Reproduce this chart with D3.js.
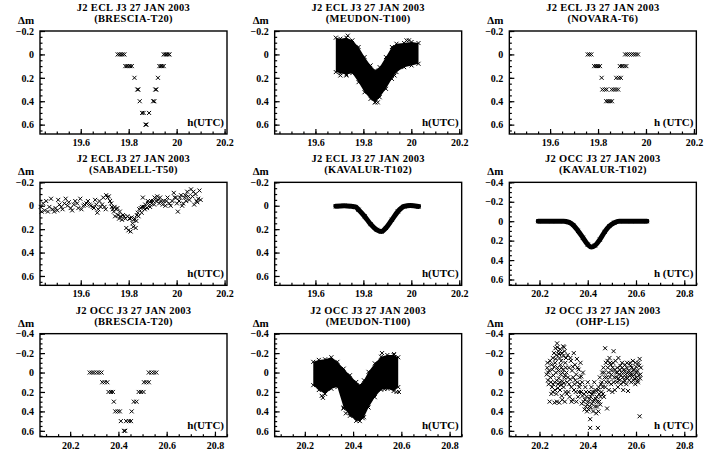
<!DOCTYPE html>
<html>
<head>
<meta charset="utf-8">
<script src="https://cdn.jsdelivr.net/npm/d3@7.9.0/dist/d3.min.js"></script>
<style>
  body { margin: 0; background: #fff; }
  svg text { font-family: "Liberation Serif", "DejaVu Serif", serif; font-weight: bold; fill: #000; }
</style>
</head>
<body>
<svg id="chart" width="704" height="454"></svg>
<script>
// tick labels
const eclTicks = [19.6, 19.8, 20, 20.2];
const occTicks = [20.2, 20.4, 20.6, 20.8];
const yTicksShort = [-0.2, 0, 0.2, 0.4, 0.6];
const yTicksLong = [-0.4, -0.2, 0, 0.2, 0.4, 0.6];

// scattered photometry, [h(UTC), delta m]
const bresciaEcl = [
  [19.754,0],[19.761,0],[19.768,0],[19.775,0],[19.782,0],
  [19.786,0.1],[19.792,0.1],[19.799,0.1],[19.806,0.1],[19.813,0.1],
  [19.824,0.2],[19.836,0.3],[19.840,0.3],[19.846,0.4],
  [19.856,0.5],[19.862,0.5],[19.885,0.5],[19.870,0.6],[19.874,0.6],
  [19.902,0.4],[19.907,0.4],[19.911,0.3],[19.915,0.3],[19.922,0.2],
  [19.928,0.1],[19.934,0.1],[19.940,0.1],[19.946,0.1],
  [19.946,0],[19.952,0],[19.958,0],[19.964,0],[19.970,0]
];
const novaraEcl = [
  [19.757,0],[19.764,0],[19.772,0],
  [19.913,0],[19.922,0],[19.931,0],[19.940,0],[19.949,0],[19.958,0],[19.967,0],
  [19.784,0.1],[19.792,0.1],[19.800,0.1],[19.808,0.1],
  [19.891,0.1],[19.900,0.1],[19.910,0.1],[19.918,0.1],
  [19.815,0.2],[19.876,0.2],[19.886,0.2],[19.895,0.2],
  [19.818,0.3],[19.828,0.3],[19.836,0.3],[19.857,0.3],[19.866,0.3],[19.875,0.3],[19.884,0.3],
  [19.834,0.4],[19.842,0.4],[19.850,0.4],[19.858,0.4]
];
const sabadellEcl = [
  [19.433,0.01],[19.437,0.05],[19.443,-0.02],[19.450,0.04],[19.456,-0.04],[19.463,0.05],
  [19.469,0.01],[19.476,-0.06],[19.482,0.03],[19.489,0.05],[19.495,0.02],[19.502,0.04],
  [19.506,-0.05],[19.511,-0.01],[19.519,0.01],[19.524,0.03],[19.532,-0.02],[19.537,-0.06],
  [19.545,0.0],[19.550,-0.03],[19.558,0.02],[19.564,0.04],[19.571,-0.01],[19.577,-0.04],
  [19.585,-0.02],[19.590,0.02],[19.598,-0.06],[19.603,0.03],[19.611,0.0],[19.616,-0.01],
  [19.624,-0.02],[19.630,-0.04],[19.637,-0.01],[19.642,0.0],[19.650,0.01],[19.655,0.02],
  [19.660,-0.05],[19.665,-0.01],[19.669,0.06],[19.673,0.03],[19.678,-0.04],[19.683,0.01],
  [19.689,-0.01],[19.694,-0.07],[19.699,0.01],[19.704,0.03],[19.706,-0.09],[19.712,-0.07],
  [19.717,-0.08],[19.722,-0.04],[19.727,-0.02],[19.730,0.01],[19.734,0.03],[19.738,0.05],
  [19.741,0.01],[19.743,0.09],[19.747,0.03],[19.753,0.02],[19.756,0.08],[19.760,0.11],
  [19.763,0.05],[19.766,0.09],[19.772,0.12],[19.776,0.08],[19.781,0.09],[19.786,0.11],
  [19.790,0.19],[19.795,0.09],[19.799,0.21],[19.803,0.11],[19.806,0.11],[19.808,0.22],
  [19.812,0.10],[19.816,0.15],[19.819,0.18],[19.821,0.12],[19.825,0.11],[19.829,0.19],
  [19.832,0.13],[19.834,0.08],[19.838,0.06],[19.841,0.09],[19.844,0.03],[19.850,0.02],
  [19.854,0.06],[19.856,0.01],[19.859,-0.07],[19.863,0.01],[19.867,0.03],[19.869,-0.01],
  [19.876,0.02],[19.880,-0.04],[19.882,-0.02],[19.889,0.01],[19.893,-0.04],[19.895,-0.02],
  [19.902,-0.04],[19.906,-0.01],[19.908,-0.07],[19.915,-0.04],[19.919,-0.08],[19.923,-0.05],
  [19.927,-0.02],[19.931,-0.07],[19.936,-0.04],[19.942,-0.01],[19.946,-0.04],[19.953,0.0],
  [19.957,-0.04],[19.962,-0.07],[19.969,-0.02],[19.975,0.0],[19.982,-0.04],[19.988,-0.11],
  [19.992,-0.07],[19.997,-0.07],[20.001,-0.02],[20.005,0.05],[20.010,-0.04],[20.014,-0.07],
  [20.018,-0.09],[20.023,0.0],[20.027,-0.02],[20.034,-0.07],[20.036,-0.09],[20.040,-0.04],
  [20.044,-0.12],[20.049,-0.08],[20.053,-0.05],[20.060,-0.14],[20.066,-0.08],[20.070,-0.12],
  [20.073,-0.01],[20.079,-0.10],[20.083,-0.04],[20.086,-0.03],[20.090,-0.06],[20.095,-0.13],
  [20.100,-0.05]
];
const bresciaOcc = [
  [20.281,0],[20.290,0],[20.299,0],[20.310,0],[20.320,0],[20.330,0],
  [20.526,0],[20.537,0],[20.547,0],[20.557,0],
  [20.333,0.1],[20.343,0.1],[20.354,0.1],[20.506,0.1],[20.516,0.1],[20.526,0.1],
  [20.359,0.2],[20.369,0.2],[20.377,0.2],[20.484,0.2],[20.494,0.2],[20.504,0.2],
  [20.381,0.3],[20.464,0.3],[20.475,0.3],
  [20.387,0.4],[20.397,0.4],[20.406,0.4],[20.455,0.4],
  [20.410,0.5],[20.432,0.5],[20.443,0.5],[20.452,0.5],
  [20.423,0.6],[20.428,0.6]
];
const ohpOcc = [
  [20.230,0.02],[20.232,-0.05],[20.235,0.08],[20.238,0.12],[20.240,-0.02],[20.242,0.30],
  [20.245,0.05],[20.247,0.10],[20.250,-0.08],[20.252,0.15],[20.255,0.20],[20.255,-0.15],
  [20.258,0.03],[20.260,-0.20],[20.262,0.31],[20.263,0.10],[20.265,-0.10],[20.266,-0.25],
  [20.268,0.00],[20.270,-0.18],[20.270,0.22],[20.272,0.30],[20.273,-0.30],[20.275,-0.05],
  [20.277,0.12],[20.278,-0.22],[20.280,0.06],[20.282,0.31],[20.283,-0.15],[20.285,0.18],
  [20.287,-0.08],[20.288,0.02],[20.290,-0.12],[20.292,0.24],[20.293,-0.20],[20.295,0.09],
  [20.297,-0.03],[20.298,-0.27],[20.300,0.15],[20.302,-0.26],[20.303,0.05],[20.305,0.30],
  [20.307,-0.10],[20.308,0.20],[20.310,-0.15],[20.312,0.00],[20.315,0.10],[20.317,-0.18],
  [20.320,0.20],[20.322,-0.05],[20.325,0.25],[20.327,0.07],[20.330,-0.12],[20.332,0.15],
  [20.335,-0.02],[20.337,0.28],[20.340,0.05],[20.342,-0.20],[20.345,0.12],[20.347,-0.08],
  [20.350,0.20],[20.352,0.02],[20.355,-0.14],[20.357,0.10],[20.360,0.25],[20.362,-0.03],
  [20.365,0.15],[20.367,0.05],[20.370,-0.10],[20.372,0.20],[20.375,0.32],[20.377,0.10],
  [20.380,0.00],[20.382,0.30],[20.385,0.22],[20.387,0.38],[20.390,0.15],[20.392,0.35],
  [20.395,0.25],[20.397,0.40],[20.400,0.10],[20.402,0.30],[20.405,0.20],[20.407,0.35],
  [20.410,0.57],[20.410,0.48],[20.412,0.25],[20.415,0.15],[20.417,0.32],[20.420,0.20],
  [20.422,0.40],[20.425,0.28],[20.427,0.10],[20.430,0.35],[20.432,0.18],[20.435,0.42],
  [20.437,0.25],[20.440,0.30],[20.442,0.57],[20.444,0.40],[20.445,0.15],[20.447,0.22],
  [20.450,0.05],[20.452,0.33],[20.455,0.12],[20.457,0.20],[20.460,0.00],[20.462,0.15],
  [20.465,-0.05],[20.467,0.25],[20.470,0.05],[20.472,-0.25],[20.475,-0.10],[20.477,0.10],
  [20.480,0.37],[20.482,-0.12],[20.485,0.00],[20.487,0.18],[20.490,-0.15],[20.492,0.05],
  [20.495,-0.08],[20.497,0.12],[20.500,-0.02],[20.502,0.20],[20.505,-0.10],[20.507,-0.22],
  [20.510,0.05],[20.512,0.18],[20.515,-0.12],[20.517,0.00],[20.520,0.10],[20.522,-0.05],
  [20.525,0.15],[20.527,-0.15],[20.530,0.02],[20.532,0.08],[20.535,-0.07],[20.537,0.12],
  [20.540,0.00],[20.542,-0.10],[20.545,0.05],[20.547,0.18],[20.550,-0.03],[20.552,0.08],
  [20.555,-0.08],[20.557,0.02],[20.560,0.12],[20.562,-0.05],[20.565,0.06],[20.567,0.19],
  [20.570,-0.02],[20.572,0.08],[20.575,-0.10],[20.577,0.00],[20.580,0.10],[20.582,-0.05],
  [20.585,0.04],[20.587,-0.12],[20.590,0.08],[20.592,-0.03],[20.595,0.02],[20.597,0.12],
  [20.600,-0.06],[20.602,0.05],[20.605,-0.02],[20.607,0.08],[20.610,-0.10],[20.612,0.03],
  [20.615,0.45],[20.615,-0.14],[20.617,0.06],[20.620,-0.05],
  [20.233,-0.10],[20.236,0.00],[20.244,-0.12],[20.249,0.22],[20.253,-0.03],[20.257,0.12],
  [20.261,-0.06],[20.264,0.18],[20.267,-0.14],[20.271,0.08],[20.274,-0.26],[20.276,0.16],
  [20.279,-0.02],[20.281,-0.19],[20.284,0.10],[20.286,-0.24],[20.289,0.13],[20.291,-0.05],
  [20.294,0.28],[20.296,0.00],[20.299,-0.17],[20.301,0.11],[20.304,-0.22],[20.306,0.03],
  [20.309,-0.05],[20.313,0.22],[20.318,0.05],[20.323,0.12],[20.328,-0.15],[20.333,0.30],
  [20.338,-0.06],[20.343,0.18],[20.348,0.08],[20.353,0.30],[20.358,-0.05],[20.363,0.20],
  [20.368,0.12],[20.373,0.04],[20.378,0.24],[20.388,0.28],[20.393,0.20],[20.398,0.33],
  [20.403,0.38],[20.408,0.27],[20.413,0.36],[20.418,0.22],[20.423,0.30],[20.428,0.20],
  [20.433,0.27],[20.438,0.35],[20.443,0.18],[20.448,0.30],[20.453,0.25],[20.458,0.10],
  [20.463,0.22],[20.468,0.00],[20.473,0.15],[20.478,0.05],[20.483,-0.05],[20.488,0.10],
  [20.493,-0.10],[20.498,0.02],[20.503,-0.05],[20.508,0.10],[20.513,-0.03],[20.518,0.05],
  [20.523,0.00],[20.528,0.06],[20.533,-0.03],[20.538,0.03],[20.543,-0.05],[20.548,0.10],
  [20.553,-0.01],[20.558,0.05],[20.563,-0.10],[20.568,0.00],[20.573,0.03],[20.578,-0.07],
  [20.583,0.02],[20.588,-0.02],[20.593,0.06],[20.598,-0.10],[20.603,0.00],[20.608,0.10],
  [20.613,-0.07],[20.618,0.02]
];

// dense runs (MEUDON): time, upper and lower edge of the cloud, plus stray points
const meudonEclT = [19.685,19.704,19.729,19.754,19.780,19.805,19.830,19.849,19.868,19.894,19.919,19.938,19.970,20.001,20.030];
const meudonEclTop = [-0.143,-0.134,-0.143,-0.120,-0.063,0.023,0.094,0.137,0.109,0.023,-0.063,-0.091,-0.097,-0.106,-0.097];
const meudonEclBottom = [0.151,0.160,0.171,0.160,0.237,0.323,0.380,0.409,0.366,0.294,0.209,0.151,0.109,0.094,0.080];
const meudonEclStray = [[19.704,0.18],[19.729,0.18],[19.735,-0.16],[19.849,0.41],[19.860,0.41],[19.930,0.18],[19.980,-0.12],[19.990,-0.12]];

const meudonOccT = [20.235,20.258,20.284,20.310,20.335,20.361,20.387,20.413,20.428,20.445,20.464,20.490,20.516,20.542,20.568,20.587];
const meudonOccTop = [-0.11,-0.13,-0.136,-0.157,-0.11,-0.04,0.028,0.097,0.13,0.08,-0.007,-0.094,-0.163,-0.18,-0.18,-0.157];
const meudonOccBottom = [0.13,0.18,0.22,0.167,0.15,0.36,0.445,0.497,0.50,0.46,0.36,0.254,0.177,0.167,0.19,0.15];
const meudonOccStray = [[20.270,0.24],[20.275,0.26],[20.360,0.37],[20.370,0.42],[20.440,0.47],[20.520,-0.20],[20.570,-0.19],[20.530,0.17],[20.580,0.20],[20.590,0.20]];

// dense runs (KAVALUR): centre of the band
const kavalurEcl = [[19.685,0.005],[19.720,0.0],[19.750,0.005],[19.767,0.01],[19.780,0.034],[19.805,0.09],[19.830,0.157],[19.856,0.206],[19.875,0.22],[19.894,0.19],[19.919,0.12],[19.944,0.049],[19.970,0.006],[19.995,-0.003],[20.030,0.006]];
const kavalurOcc = [[20.195,0],[20.250,0],[20.300,0],[20.320,0.01],[20.340,0.04],[20.360,0.10],[20.380,0.17],[20.400,0.24],[20.415,0.265],[20.430,0.25],[20.450,0.19],[20.470,0.11],[20.490,0.05],[20.510,0.015],[20.530,0],[20.580,0],[20.645,0]];

const eclDomain = [19.43, 20.21];
const occDomain = [20.075, 20.85];

const panels = [
  { col: 0, row: 0, title: 'J2 ECL J3 27 JAN 2003', site: '(BRESCIA-T20)', xl: 'h(UTC)', ecl: true, ymin: -0.2, scatter: bresciaEcl },
  { col: 1, row: 0, title: 'J2 ECL J3 27 JAN 2003', site: '(MEUDON-T100)', xl: 'h(UTC)', ecl: true, ymin: -0.2,
    cloud: [meudonEclT, meudonEclTop, meudonEclBottom], scatter: meudonEclStray },
  { col: 2, row: 0, title: 'J2 ECL J3 27 JAN 2003', site: '(NOVARA-T6)', xl: 'h (UTC)', ecl: true, ymin: -0.2, scatter: novaraEcl },
  { col: 0, row: 1, title: 'J2 ECL J3 27 JAN 2003', site: '(SABADELL-T50)', xl: 'h(UTC)', ecl: true, ymin: -0.2, scatter: sabadellEcl },
  { col: 1, row: 1, title: 'J2 ECL J3 27 JAN 2003', site: '(KAVALUR-T102)', xl: 'h(UTC)', ecl: true, ymin: -0.2, band: kavalurEcl },
  { col: 2, row: 1, title: 'J2 OCC J3 27 JAN 2003', site: '(KAVALUR-T102)', xl: 'h (UTC)', ecl: false, ymin: -0.4, band: kavalurOcc },
  { col: 0, row: 2, title: 'J2 OCC J3 27 JAN 2003', site: '(BRESCIA-T20)', xl: 'h(UTC)', ecl: false, ymin: -0.4, scatter: bresciaOcc },
  { col: 1, row: 2, title: 'J2 OCC J3 27 JAN 2003', site: '(MEUDON-T100)', xl: 'h(UTC)', ecl: false, ymin: -0.4,
    cloud: [meudonOccT, meudonOccTop, meudonOccBottom], scatter: meudonOccStray },
  { col: 2, row: 2, title: 'J2 OCC J3 27 JAN 2003', site: '(OHP-L15)', xl: 'h (UTC)', ecl: false, ymin: -0.4, scatter: ohpOcc }
];

const svg = d3.select('#chart');
const cellW = 704 / 3, cellH = 454 / 3;
const boxW = 187, boxH = 103;
const fmt = d => d === 0 ? '0' : (d < 0 ? '\u2212' + Math.abs(d) : String(d));

function cross(sel, pts, x, y) {
  sel.selectAll(null).data(pts).join('path')
    .attr('transform', d => `translate(${x(d[0])},${y(d[1])})`)
    .attr('d', 'M-2,-2L2,2M-2,2L2,-2')
    .attr('stroke', '#000').attr('stroke-width', 1).attr('fill', 'none');
}

panels.forEach(p => {
  const ox = p.col * cellW + 40, oy = p.row * cellH + 31;
  const g = svg.append('g').attr('transform', `translate(${ox},${oy})`);
  const x = d3.scaleLinear().domain(p.ecl ? eclDomain : occDomain).range([0, boxW]);
  const ymax = p.ymin === -0.2 ? 0.68 : 0.66;
  const y = d3.scaleLinear().domain([p.ymin, ymax]).range([0, boxH]);

  // minor + major ticks, pointing into the box
  const minorX = d3.range(Math.ceil(x.domain()[0] * 20), Math.floor(x.domain()[1] * 20) + 1).map(v => v / 20);
  const minorY = d3.range(Math.ceil(p.ymin * 20), Math.floor(ymax * 20) + 1).map(v => v / 20);

  g.append('g').attr('transform', `translate(0,${boxH})`)
    .call(d3.axisBottom(x).tickValues(minorX).tickSize(-2.5).tickFormat(''))
    .call(a => a.select('.domain').remove());
  g.append('g').attr('transform', `translate(0,${boxH})`)
    .call(d3.axisBottom(x).tickValues(p.ecl ? eclTicks : occTicks).tickSize(-5).tickPadding(5).tickFormat(fmt))
    .call(a => a.select('.domain').remove())
    .call(a => a.selectAll('text').attr('font-size', 10));
  g.append('g')
    .call(d3.axisLeft(y).tickValues(minorY).tickSize(-2.5).tickFormat(''))
    .call(a => a.select('.domain').remove());
  g.append('g')
    .call(d3.axisLeft(y).tickValues(p.ymin === -0.2 ? yTicksShort : yTicksLong).tickSize(-5).tickPadding(6).tickFormat(fmt))
    .call(a => a.select('.domain').remove())
    .call(a => a.selectAll('text').attr('font-size', 10));
  g.selectAll('.tick line').attr('stroke', '#000').attr('stroke-width', 1.2);
  g.selectAll('.tick text').attr('font-family', null);

  g.append('rect').attr('width', boxW).attr('height', boxH)
    .attr('fill', 'none').attr('stroke', '#000').attr('stroke-width', 1.4);

  if (p.cloud) {
    const [t, top, bot] = p.cloud;
    const area = d3.area().x((d, i) => x(t[i])).y0((d, i) => y(top[i])).y1((d, i) => y(bot[i]));
    g.append('path').datum(t).attr('d', area).attr('fill', '#000');
    cross(g.append('g'), t.map((v, i) => [v, top[i]]), x, y);
    cross(g.append('g'), t.map((v, i) => [v, bot[i]]), x, y);
  }
  if (p.band) {
    g.append('path').datum(p.band)
      .attr('d', d3.line().x(d => x(d[0])).y(d => y(d[1])).curve(d3.curveMonotoneX))
      .attr('fill', 'none').attr('stroke', '#000').attr('stroke-width', 5).attr('stroke-linecap', 'round');
    cross(g.append('g'), p.band, x, y);
  }
  if (p.scatter) cross(g.append('g'), p.scatter, x, y);

  // titles and axis names
  g.append('text').attr('x', boxW / 2).attr('y', -20).attr('text-anchor', 'middle')
    .attr('font-size', 10.5).attr('letter-spacing', 0.3).text(p.title);
  g.append('text').attr('x', boxW / 2).attr('y', -9).attr('text-anchor', 'middle')
    .attr('font-size', 10.5).attr('letter-spacing', 0.3).text(p.site);
  g.append('text').attr('x', -22).attr('y', -7).attr('font-size', 11).text('\u0394m');
  g.append('text').attr('x', boxW - 3).attr('y', boxH - 8).attr('text-anchor', 'end').attr('font-size', 11).text(p.xl);
});
</script>
</body>
</html>
